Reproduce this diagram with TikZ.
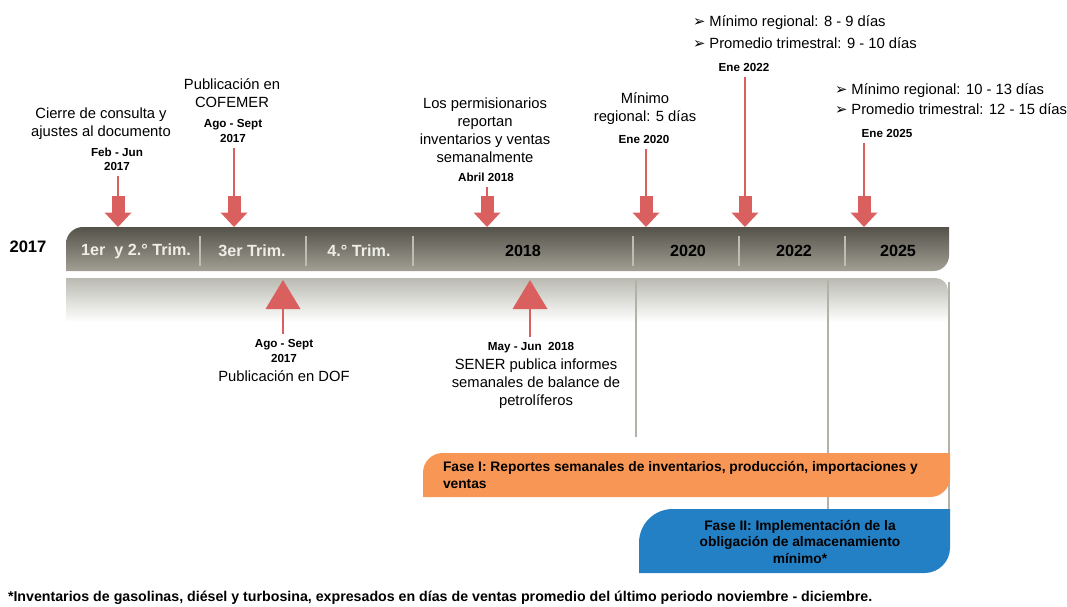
\documentclass[tikz,border=0pt]{standalone}
\usepackage{fontspec}
\setmainfont{Liberation Sans}
\newfontfamily\symfont{DejaVu Sans}
\usetikzlibrary{calc}

\definecolor{markred}{RGB}{217,96,94}
\definecolor{bartop}{RGB}{84,82,74}
\definecolor{barbot}{RGB}{162,160,148}
\definecolor{shelf}{RGB}{186,186,178}
\definecolor{rule}{RGB}{178,178,168}
\definecolor{faseone}{RGB}{247,150,85}
\definecolor{fasetwo}{RGB}{36,128,196}
\definecolor{trimtxt}{RGB}{238,238,230}

\tikzset{
	every node/.style={inner sep=0pt, outer sep=0pt},
	note/.style={align=center, font=\fontsize{10.5}{12.8}\selectfont},
	datelbl/.style={align=center, font=\fontsize{8.3}{10}\selectfont\bfseries},
	period/.style={font=\fontsize{11.5}{13}\selectfont\bfseries},
	bullets/.style={align=left, anchor=west, font=\fontsize{10.5}{15.6}\selectfont},
	fase/.style={font=\fontsize{9.8}{11.4}\selectfont\bfseries},
	stem/.style={draw=markred, line width=1.8pt},
	guide/.style={draw=rule, line width=1.4pt},
	downmark/.pic={
		\fill[markred] (-6.5,-31) rectangle (6.5,-14);
		\fill[markred] (-13.5,-14.5) -- (13.5,-14.5) -- (0,0) -- cycle;},
	upmark/.pic={
		\fill[markred] (-17.5,29) -- (17.5,29) -- (0,0) -- cycle;}
}
\def\bul{{\symfont\char"27A2}\ }

\begin{document}
\begin{tikzpicture}[x=0.025cm, y=-0.025cm]
	%%%%% START %%%%%
	\useasboundingbox (0,0) rectangle (1067,606);
	
	% bars
	\shade[top color=shelf, bottom color=white] (66,322) -- (66,278) [rounded corners=9pt] -- (948,278) [sharp corners] -- (948,322) -- cycle;
	\shade[top color=bartop, bottom color=barbot] (66,271) [rounded corners=12pt] -- (66,227) [sharp corners] -- (949,227) [rounded corners=11pt] -- (949,271) [sharp corners] -- cycle;
	\foreach \sx in {200,306,413,633,739,845}
		\draw[draw=barbot!70!white, line width=1.2pt] (\sx,236) -- (\sx,266);
	
	% guides below the bar
	\draw[guide] (636,280) -- (636,437);
	\draw[guide] (828,280) -- (828,509);
	\draw[guide] (949,282) -- (949,509);
	
	\node[font=\fontsize{11.8}{13}\selectfont\bfseries] (yr) at (28,247) {2017};
	\node[period, text=trimtxt] (trimA) at (136,251) {1er~ y 2.° Trim.};
	\node[period, text=trimtxt] (trimB) at (252,251) {3er Trim.};
	\node[period, text=trimtxt] (trimC) at (359,251) {4.° Trim.};
	\node[period] (yB) at (523,251) {2018};
	\node[period] (yC) at (688,251) {2020};
	\node[period] (yD) at (794,251) {2022};
	\node[period] (yE) at (898,251) {2025};
	
	% milestones above
	\node[note] (cierre) at (101,124) {Cierre de consulta y\\ajustes al documento};
	\node[datelbl] (febjun) at (117,159) {Feb - Jun\\2017};
	\node[note] (cofemer) at (232,93) {Publicación en\\COFEMER};
	\node[datelbl] (agoA) at (233,131) {Ago - Sept\\2017};
	\node[note] (permis) at (485,130) {Los permisionarios\\reportan\\inventarios y ventas\\semanalmente};
	\node[datelbl] (abril) at (486,177) {Abril 2018};
	\node[note] (minimo) at (645,109) {Mínimo\\regional: 5 días};
	\node[datelbl] (eneA) at (644,139) {Ene 2020};
	\node[bullets] (metaA) at (693,32) {\bul Mínimo regional: 8 - 9 días\\\bul Promedio trimestral: 9 - 10 días};
	\node[datelbl] (eneB) at (744,67) {Ene 2022};
	\node[bullets, font=\fontsize{10.5}{14.2}\selectfont] (metaB) at (835,99) {\bul Mínimo regional: 10 - 13 días\\\bul Promedio trimestral: 12 - 15 días};
	\node[datelbl] (eneC) at (887,133) {Ene 2025};
	
	\coordinate (tA) at (118,227);
	\coordinate (tB) at (234,227);
	\coordinate (tC) at (487,227);
	\coordinate (tD) at (646,227);
	\coordinate (tE) at (745,227);
	\coordinate (tF) at (864,227);
	\foreach \lbl/\tip in {febjun/tA, agoA/tB, abril/tC, eneA/tD, eneB/tE, eneC/tF}{
		\draw[stem] ($(\tip |- \lbl.south)+(0,6)$) -- ($(\tip)+(0,-29)$);
		\pic at (\tip) {downmark};
	}
	
	% milestones below
	\node[datelbl] (agoB) at (284,351) {Ago - Sept\\2017};
	\node[note] (dof) at (284,376) {Publicación en DOF};
	\node[datelbl] (mayjun) at (531,348) {May - Jun~ 2018};
	\node[note] (sener) at (536,384) {SENER publica informes\\semanales de balance de\\petrolíferos};
	
	\coordinate (uA) at (283,280);
	\coordinate (uB) at (530,280);
	\foreach \lbl/\tip in {agoB/uA, mayjun/uB}{
		\draw[stem, line width=2.1pt] ($(\tip)+(0,27)$) -- ($(\tip |- \lbl.north)+(0,-6)$);
		\pic at (\tip) {upmark};
	}
	
	% phases
	\fill[faseone] (423,497) [rounded corners=14pt] -- (423,453) [sharp corners] -- (950,453) [rounded corners=14pt] -- (950,497) [sharp corners] -- cycle;
	\node[fase, align=left, anchor=west] (faseI) at (443,475) {Fase I: Reportes semanales de inventarios, producción, importaciones y\\ventas};
	\fill[fasetwo] (639,573) [rounded corners=24pt] -- (639,509) [sharp corners] -- (950,509) [rounded corners=18pt] -- (950,573) [sharp corners] -- cycle;
	\node[fase, align=center] (faseII) at (800,542) {Fase II: Implementación de la\\obligación de almacenamiento\\mínimo*};
	
	\node[fase, font=\fontsize{10.1}{12}\selectfont\bfseries, anchor=west] (nota) at (8,598) {*Inventarios de gasolinas, diésel y turbosina, expresados en días de ventas promedio del último periodo noviembre - diciembre.};
	%%%%% END %%%%%
\end{tikzpicture}
\end{document}
